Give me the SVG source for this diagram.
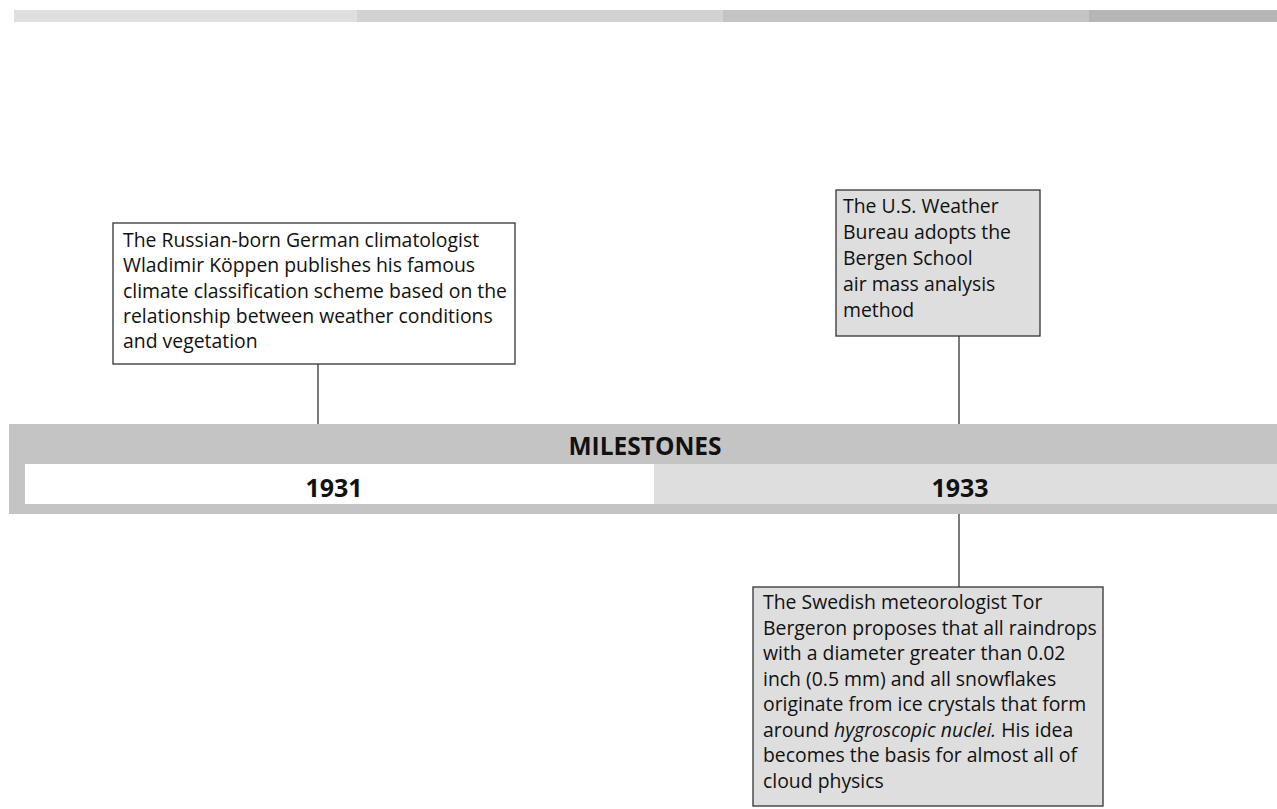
<svg xmlns="http://www.w3.org/2000/svg" width="1277" height="809" viewBox="0 0 1277 809">
<style>
.box{stroke:#333;stroke-width:1.3}
.t{font-family:"Open Sans","DejaVu Sans",sans-serif;font-size:19.4px;fill:#111}
.hd{font-family:"Open Sans","DejaVu Sans",sans-serif;font-weight:bold;fill:#111;text-anchor:middle}
.conn{stroke:#333;stroke-width:1.3;fill:none}
</style>
<g id="topbar">
<rect x="14" y="10" width="343" height="12" fill="#dfdfdf"/>
<rect x="357" y="10" width="366" height="12" fill="#d2d2d2"/>
<rect x="723" y="10" width="366" height="12" fill="#c4c4c4"/>
<rect x="1089" y="10" width="188" height="12" fill="#b6b6b6"/>
</g>
<g id="connectors">
<line class="conn" x1="318" y1="364" x2="318" y2="424"/>
<line class="conn" x1="959" y1="336" x2="959" y2="424"/>
<line class="conn" x1="959" y1="514" x2="959" y2="587"/>
</g>
<g id="band">
<rect x="9" y="424" width="1268" height="90" fill="#c4c4c4"/>
<rect x="25" y="464" width="629" height="40" fill="#ffffff"/>
<rect x="654" y="464" width="623" height="40" fill="#dedede"/>
<text class="hd" x="645" y="455" font-size="24.5">MILESTONES</text>
<text class="hd" x="334" y="497" font-size="25">1931</text>
<text class="hd" x="960" y="497" font-size="25">1933</text>
</g>
<g id="node1">
<rect class="box" x="113" y="223" width="402" height="141" fill="#ffffff"/>
<text class="t" x="123" y="247">The Russian-born German climatologist</text>
<text class="t" x="123" y="272">Wladimir Köppen publishes his famous</text>
<text class="t" x="123" y="298">climate classification scheme based on the</text>
<text class="t" x="123" y="323">relationship between weather conditions</text>
<text class="t" x="123" y="348">and vegetation</text>
</g>
<g id="node2">
<rect class="box" x="836" y="190" width="204" height="146" fill="#dedede"/>
<text class="t" x="843" y="213">The U.S. Weather</text>
<text class="t" x="843" y="239">Bureau adopts the</text>
<text class="t" x="843" y="265">Bergen School</text>
<text class="t" x="843" y="291">air mass analysis</text>
<text class="t" x="843" y="317">method</text>
</g>
<g id="node3">
<rect class="box" x="753" y="587" width="350" height="219" fill="#dedede"/>
<text class="t" x="763" y="609">The Swedish meteorologist Tor</text>
<text class="t" x="763" y="634.5">Bergeron proposes that all raindrops</text>
<text class="t" x="763" y="660">with a diameter greater than 0.02</text>
<text class="t" x="763" y="685.5">inch (0.5 mm) and all snowflakes</text>
<text class="t" x="763" y="711">originate from ice crystals that form</text>
<text class="t" x="763" y="736.5">around <tspan font-style="italic">hygroscopic nuclei.</tspan> His idea</text>
<text class="t" x="763" y="762">becomes the basis for almost all of</text>
<text class="t" x="763" y="787.5">cloud physics</text>
</g>
</svg>
